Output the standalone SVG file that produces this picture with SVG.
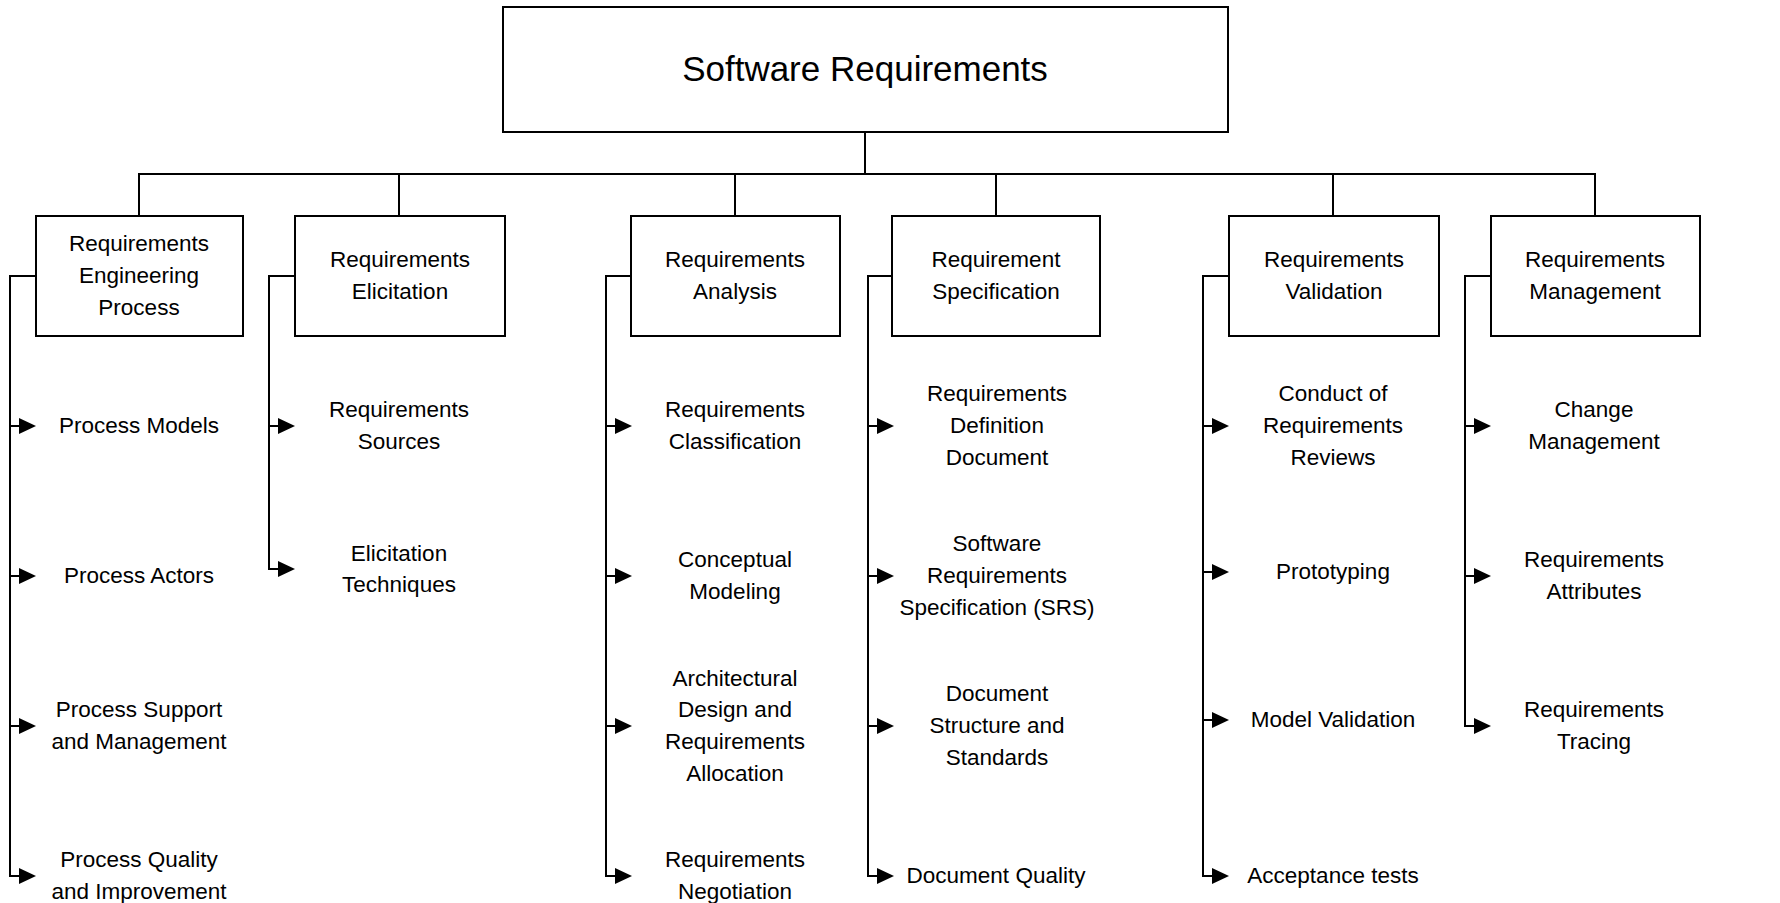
<svg xmlns="http://www.w3.org/2000/svg" width="1780" height="903" viewBox="0 0 1780 903">
<style>
.box{fill:#fff;stroke:#000;stroke-width:2}
.ln{fill:none;stroke:#000;stroke-width:2}
.t{font-family:"Liberation Sans",Arial,sans-serif;font-size:22.5px;fill:#000;text-anchor:middle}
.title{font-family:"Liberation Sans",Arial,sans-serif;font-size:35px;fill:#000;text-anchor:middle}
</style>
<defs>
<marker id="ah" viewBox="0 0 17 16" refX="3" refY="8" markerWidth="17" markerHeight="16" markerUnits="userSpaceOnUse" orient="auto">
<path d="M0,0 L17,8 L0,16 Z" fill="#000"/>
</marker>
</defs>
<rect width="1780" height="903" fill="#fff"/>

<g id="connectors">
<path class="ln" d="M865,132 V174 M139,216 V174 H1595 V216 M399,174 V216 M735,174 V216 M996,174 V216 M1333,174 V216"/>
<!-- column 1 -->
<path class="ln" d="M36,276 H10 V876 H22" marker-end="url(#ah)"/>
<path class="ln" d="M10,426 H22" marker-end="url(#ah)"/>
<path class="ln" d="M10,576 H22" marker-end="url(#ah)"/>
<path class="ln" d="M10,726 H22" marker-end="url(#ah)"/>
<!-- column 2 -->
<path class="ln" d="M295,276 H269 V569 H281" marker-end="url(#ah)"/>
<path class="ln" d="M269,426 H281" marker-end="url(#ah)"/>
<!-- column 3 -->
<path class="ln" d="M631,276 H606 V876 H618" marker-end="url(#ah)"/>
<path class="ln" d="M606,426 H618" marker-end="url(#ah)"/>
<path class="ln" d="M606,576 H618" marker-end="url(#ah)"/>
<path class="ln" d="M606,726 H618" marker-end="url(#ah)"/>
<!-- column 4 -->
<path class="ln" d="M892,276 H868 V876 H880" marker-end="url(#ah)"/>
<path class="ln" d="M868,426 H880" marker-end="url(#ah)"/>
<path class="ln" d="M868,576 H880" marker-end="url(#ah)"/>
<path class="ln" d="M868,726 H880" marker-end="url(#ah)"/>
<!-- column 5 -->
<path class="ln" d="M1229,276 H1203 V876 H1215" marker-end="url(#ah)"/>
<path class="ln" d="M1203,426 H1215" marker-end="url(#ah)"/>
<path class="ln" d="M1203,572 H1215" marker-end="url(#ah)"/>
<path class="ln" d="M1203,720 H1215" marker-end="url(#ah)"/>
<!-- column 6 -->
<path class="ln" d="M1491,276 H1465 V726 H1477" marker-end="url(#ah)"/>
<path class="ln" d="M1465,426 H1477" marker-end="url(#ah)"/>
<path class="ln" d="M1465,576 H1477" marker-end="url(#ah)"/>
</g>

<g id="root">
<rect class="box" x="503" y="7" width="725" height="125"/>
<text class="title" x="865" y="81">Software Requirements</text>
</g>

<g id="rep">
<rect class="box" x="36" y="216" width="207" height="120"/>
<text class="t" x="139" y="251.3"><tspan x="139">Requirements</tspan><tspan x="139" dy="31.7">Engineering</tspan><tspan x="139" dy="31.7">Process</tspan></text>
</g>
<g id="elicitation">
<rect class="box" x="295" y="216" width="210" height="120"/>
<text class="t" x="400" y="267.2"><tspan x="400">Requirements</tspan><tspan x="400" dy="31.7">Elicitation</tspan></text>
</g>
<g id="analysis">
<rect class="box" x="631" y="216" width="209" height="120"/>
<text class="t" x="735" y="267.2"><tspan x="735">Requirements</tspan><tspan x="735" dy="31.7">Analysis</tspan></text>
</g>
<g id="specification">
<rect class="box" x="892" y="216" width="208" height="120"/>
<text class="t" x="996" y="267.2"><tspan x="996">Requirement</tspan><tspan x="996" dy="31.7">Specification</tspan></text>
</g>
<g id="validation">
<rect class="box" x="1229" y="216" width="210" height="120"/>
<text class="t" x="1334" y="267.2"><tspan x="1334">Requirements</tspan><tspan x="1334" dy="31.7">Validation</tspan></text>
</g>
<g id="management">
<rect class="box" x="1491" y="216" width="209" height="120"/>
<text class="t" x="1595" y="267.2"><tspan x="1595">Requirements</tspan><tspan x="1595" dy="31.7">Management</tspan></text>
</g>

<g id="process-models"><text class="t" x="139" y="433">Process Models</text></g>
<g id="process-actors"><text class="t" x="139" y="583">Process Actors</text></g>
<g id="process-support"><text class="t" x="139" y="717.2"><tspan x="139">Process Support</tspan><tspan x="139" dy="31.7">and Management</tspan></text></g>
<g id="process-quality"><text class="t" x="139" y="867.2"><tspan x="139">Process Quality</tspan><tspan x="139" dy="31.7">and Improvement</tspan></text></g>

<g id="req-sources"><text class="t" x="399" y="417.2"><tspan x="399">Requirements</tspan><tspan x="399" dy="31.7">Sources</tspan></text></g>
<g id="elic-techniques"><text class="t" x="399" y="560.5"><tspan x="399">Elicitation</tspan><tspan x="399" dy="31.7">Techniques</tspan></text></g>

<g id="req-classification"><text class="t" x="735" y="417.2"><tspan x="735">Requirements</tspan><tspan x="735" dy="31.7">Classification</tspan></text></g>
<g id="conceptual-modeling"><text class="t" x="735" y="567.2"><tspan x="735">Conceptual</tspan><tspan x="735" dy="31.7">Modeling</tspan></text></g>
<g id="arch-design"><text class="t" x="735" y="685.5"><tspan x="735">Architectural</tspan><tspan x="735" dy="31.7">Design and</tspan><tspan x="735" dy="31.7">Requirements</tspan><tspan x="735" dy="31.7">Allocation</tspan></text></g>
<g id="req-negotiation"><text class="t" x="735" y="867.2"><tspan x="735">Requirements</tspan><tspan x="735" dy="31.7">Negotiation</tspan></text></g>

<g id="req-def-doc"><text class="t" x="997" y="401.3"><tspan x="997">Requirements</tspan><tspan x="997" dy="31.7">Definition</tspan><tspan x="997" dy="31.7">Document</tspan></text></g>
<g id="srs"><text class="t" x="997" y="551.3"><tspan x="997">Software</tspan><tspan x="997" dy="31.7">Requirements</tspan><tspan x="997" dy="31.7">Specification (SRS)</tspan></text></g>
<g id="doc-structure"><text class="t" x="997" y="701.3"><tspan x="997">Document</tspan><tspan x="997" dy="31.7">Structure and</tspan><tspan x="997" dy="31.7">Standards</tspan></text></g>
<g id="doc-quality"><text class="t" x="996" y="883">Document Quality</text></g>

<g id="conduct-reviews"><text class="t" x="1333" y="401.3"><tspan x="1333">Conduct of</tspan><tspan x="1333" dy="31.7">Requirements</tspan><tspan x="1333" dy="31.7">Reviews</tspan></text></g>
<g id="prototyping"><text class="t" x="1333" y="579">Prototyping</text></g>
<g id="model-validation"><text class="t" x="1333" y="727">Model Validation</text></g>
<g id="acceptance-tests"><text class="t" x="1333" y="883">Acceptance tests</text></g>

<g id="change-mgmt"><text class="t" x="1594" y="417.2"><tspan x="1594">Change</tspan><tspan x="1594" dy="31.7">Management</tspan></text></g>
<g id="req-attributes"><text class="t" x="1594" y="567.2"><tspan x="1594">Requirements</tspan><tspan x="1594" dy="31.7">Attributes</tspan></text></g>
<g id="req-tracing"><text class="t" x="1594" y="717.2"><tspan x="1594">Requirements</tspan><tspan x="1594" dy="31.7">Tracing</tspan></text></g>
</svg>
